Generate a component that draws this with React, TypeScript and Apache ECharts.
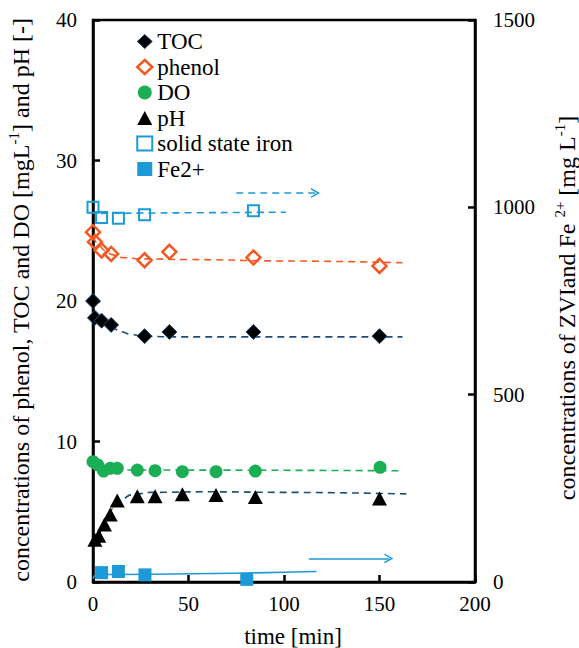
import React, { useEffect, useRef } from 'react';
import * as echarts from 'echarts';

const FONT = "'Liberation Serif', 'Times New Roman', serif";

// axis ranges / ticks
const xRange = [0, 200, 50];
const leftRange = [0, 40, 10];
const rightRange = [0, 1500, 500];

// measured points
const tocTime = [0, 1, 4.5, 9.5, 27, 40, 84, 150];
const tocValue = [20.0, 18.8, 18.6, 18.3, 17.5, 17.8, 17.8, 17.5];
const phenolTime = [0, 1, 4.5, 9.5, 27, 40, 84, 150];
const phenolValue = [24.9, 24.2, 23.6, 23.35, 22.9, 23.5, 23.1, 22.5];
const doTime = [0, 2.5, 5.5, 9, 12.7, 23.2, 32.5, 46.8, 64.4, 85, 150.3];
const doValue = [8.56, 8.33, 7.9, 8.09, 8.09, 7.97, 7.92, 7.85, 7.85, 7.9, 8.16];
const phTime = [1, 3, 6, 9, 12.7, 23.2, 32.5, 46.8, 64.4, 85, 150];
const phValue = [3.0, 3.3, 4.1, 4.8, 5.8, 6.1, 6.1, 6.25, 6.2, 6.05, 5.95];
const ironTime = [0, 4.5, 13.3, 27, 84];
const ironValue = [1000, 973, 971, 980, 991];
const fe2Time = [4.5, 13.3, 27.2, 80.5];
const fe2Value = [25, 28, 19, 7];

// trend curves
const tocTrendT = [0, 3, 6, 10, 15, 20, 27, 40, 162];
const tocTrendV = [19.2, 18.8, 18.4, 18.1, 17.8, 17.6, 17.5, 17.45, 17.45];
const phenolTrendT = [0, 3, 6, 10, 15, 25, 50, 100, 162];
const phenolTrendV = [24.6, 24.0, 23.6, 23.3, 23.1, 23.0, 22.95, 22.85, 22.72];
const doTrendT = [0, 3, 6, 10, 20, 160];
const doTrendV = [8.5, 8.25, 8.1, 8.02, 7.97, 7.92];
const phTrendT = [0, 3, 6, 10, 15, 20, 30, 60, 100, 164];
const phTrendV = [2.6, 3.4, 4.3, 5.2, 5.9, 6.2, 6.38, 6.42, 6.38, 6.27];
const ironTrendT = [4, 101];
const ironTrendV = [984, 987];
const fe2TrendT = [0, 1, 4, 117];
const fe2TrendV = [8, 17, 20, 28];

// arrows pointing to the right axis
const arrowDashT = [75, 116.5];
const arrowDashV = [1038, 1038];
const arrowSolidT = [113, 154.9];
const arrowSolidV = [63, 63];

const NAVY = '#1f4e79';
const ORANGE = '#f15a24';
const GREEN = '#1aaf54';
const BLUE = '#1b9ad7';

const zip = (a: number[], b: number[]) => a.map((v, i) => [v, b[i]]);

const CHEVRON = 'path://M0,10 L5,0 L10,10 L8.4,10 L5,3.2 L1.6,10 Z';

export default function App() {
  const ref = useRef<HTMLDivElement>(null);
  useEffect(() => {
    if (!ref.current) return;
    const chart = echarts.init(ref.current, null, { renderer: 'svg' });
    const axisLine = { show: true, lineStyle: { color: '#000', width: 2.5 } };
    const axisTick = { show: true, inside: true, length: 7, lineStyle: { color: '#000', width: 2.5 } };
    const labelStyle = { fontFamily: FONT, fontSize: 21, color: '#000', formatter: (v: number) => String(v) };
    const trend = (name: string, t: number[], v: number[], color: string, yi: number, type: any) => ({
      name, type: 'line', yAxisIndex: yi, data: zip(t, v), showSymbol: false, symbol: 'none',
      smooth: 0.4, smoothMonotone: 'x', silent: true, z: 2,
      lineStyle: { color, width: 1.6, type },
    });
    const rich = {
      n: { fontFamily: FONT, fontSize: 24, lineHeight: 30, fill: '#000' },
      s: { fontFamily: FONT, fontSize: 15, lineHeight: 15, verticalAlign: 'top', fill: '#000' },
    };
    const option: any = {
      animation: false,
      backgroundColor: '#fff',
      textStyle: { fontFamily: FONT },
      grid: { left: 93, right: 104, top: 20, bottom: 66, show: true, borderColor: '#000', borderWidth: 2.5, containLabel: false },
      xAxis: {
        type: 'value', min: xRange[0], max: xRange[1], interval: xRange[2],
        axisLine, axisTick, splitLine: { show: false },
        axisLabel: { ...labelStyle, margin: 11 },
      },
      yAxis: [
        {
          type: 'value', position: 'left', min: leftRange[0], max: leftRange[1], interval: leftRange[2],
          axisLine, axisTick, splitLine: { show: false },
          axisLabel: { ...labelStyle, margin: 16 },
        },
        {
          type: 'value', position: 'right', min: rightRange[0], max: rightRange[1], interval: rightRange[2],
          axisLine, axisTick, splitLine: { show: false },
          axisLabel: { ...labelStyle, margin: 18 },
        },
      ],
      legend: {
        orient: 'vertical', left: 136, top: 29, padding: 0, itemWidth: 15, itemHeight: 14, itemGap: 0.5,
        textStyle: { fontFamily: FONT, fontSize: 23, color: '#000', lineHeight: 25 },
        data: [
          { name: 'TOC', icon: 'diamond', itemStyle: { color: '#000', borderColor: NAVY, borderWidth: 1 } },
          { name: 'phenol', icon: 'diamond', itemStyle: { color: '#fff', borderColor: ORANGE, borderWidth: 2.5 } },
          { name: 'DO', icon: 'circle', itemStyle: { color: GREEN, borderWidth: 0 } },
          { name: 'pH', icon: 'triangle', itemStyle: { color: '#000', borderWidth: 0 } },
          { name: 'solid state iron', icon: 'rect', itemStyle: { color: '#fff', borderColor: BLUE, borderWidth: 2 } },
          { name: 'Fe2+', icon: 'rect', itemStyle: { color: BLUE, borderWidth: 0 } },
        ],
      },
      graphic: [
        {
          type: 'text', x: 21, y: 300, rotation: Math.PI / 2, silent: true,
          style: {
            text: '{n|concentrations of phenol, TOC and DO [mgL}{s|-1}{n|] and pH [-]}',
            align: 'center', verticalAlign: 'middle', fill: '#000', fontFamily: FONT, rich,
          },
        },
        {
          type: 'text', x: 567, y: 308, rotation: Math.PI / 2, silent: true,
          style: {
            text: '{n|concentrations of ZVIand Fe }{s|2+}{n| [mg L}{s|-1}{n|]}',
            align: 'center', verticalAlign: 'middle', fill: '#000', fontFamily: FONT, rich,
          },
        },
        {
          type: 'text', x: 293, y: 636, silent: true,
          style: { text: 'time [min]', fontFamily: FONT, fontSize: 23, fill: '#000', align: 'center', verticalAlign: 'middle' },
        },
      ],
      series: [
        trend('TOC trend', tocTrendT, tocTrendV, NAVY, 0, [7, 5]),
        trend('phenol trend', phenolTrendT, phenolTrendV, ORANGE, 0, [7, 5]),
        trend('DO trend', doTrendT, doTrendV, GREEN, 0, [7, 5]),
        trend('pH trend', phTrendT, phTrendV, NAVY, 0, [7, 5]),
        {
          ...trend('iron trend', ironTrendT, ironTrendV, BLUE, 1, [7, 5]),
          markLine: {
            silent: true, symbol: ['none', CHEVRON], symbolSize: [10, 9], label: { show: false },
            emphasis: { disabled: true },
            data: [
              [
                { coord: [arrowDashT[0], arrowDashV[0]], lineStyle: { type: [7, 5], color: BLUE, width: 1.6 } },
                { coord: [arrowDashT[1], arrowDashV[1]] },
              ],
              [
                { coord: [arrowSolidT[0], arrowSolidV[0]], lineStyle: { type: 'solid', color: BLUE, width: 1.6 } },
                { coord: [arrowSolidT[1], arrowSolidV[1]] },
              ],
            ],
          },
        },
        trend('Fe2+ trend', fe2TrendT, fe2TrendV, BLUE, 1, 'solid'),
        {
          name: 'TOC', type: 'scatter', yAxisIndex: 0, data: zip(tocTime, tocValue), symbol: 'diamond', symbolSize: 15, z: 5,
          itemStyle: { color: '#000', borderColor: NAVY, borderWidth: 1, opacity: 1 },
        },
        {
          name: 'phenol', type: 'scatter', yAxisIndex: 0, data: zip(phenolTime, phenolValue), symbol: 'diamond', symbolSize: 14, z: 5,
          itemStyle: { color: 'rgba(255,255,255,0)', borderColor: ORANGE, borderWidth: 2.5, opacity: 1 },
        },
        {
          name: 'DO', type: 'scatter', yAxisIndex: 0, data: zip(doTime, doValue), symbol: 'circle', symbolSize: 13, z: 5,
          itemStyle: { color: GREEN, opacity: 1 },
        },
        {
          name: 'pH', type: 'scatter', yAxisIndex: 0, data: zip(phTime, phValue), symbol: 'triangle', symbolSize: [15, 14], z: 5,
          itemStyle: { color: '#000', opacity: 1 },
        },
        {
          name: 'solid state iron', type: 'scatter', yAxisIndex: 1, data: zip(ironTime, ironValue), symbol: 'rect', symbolSize: 11, z: 5,
          itemStyle: { color: 'rgba(255,255,255,0)', borderColor: BLUE, borderWidth: 2, opacity: 1 },
        },
        {
          name: 'Fe2+', type: 'scatter', yAxisIndex: 1, data: zip(fe2Time, fe2Value), symbol: 'rect', symbolSize: 13, z: 5,
          itemStyle: { color: BLUE, opacity: 1 },
        },
      ],
    };
    chart.setOption(option);
    return () => chart.dispose();
  }, []);
  return <div ref={ref} style={{ width: 579, height: 648, position: 'absolute', left: 0, top: 0 }} />;
}
